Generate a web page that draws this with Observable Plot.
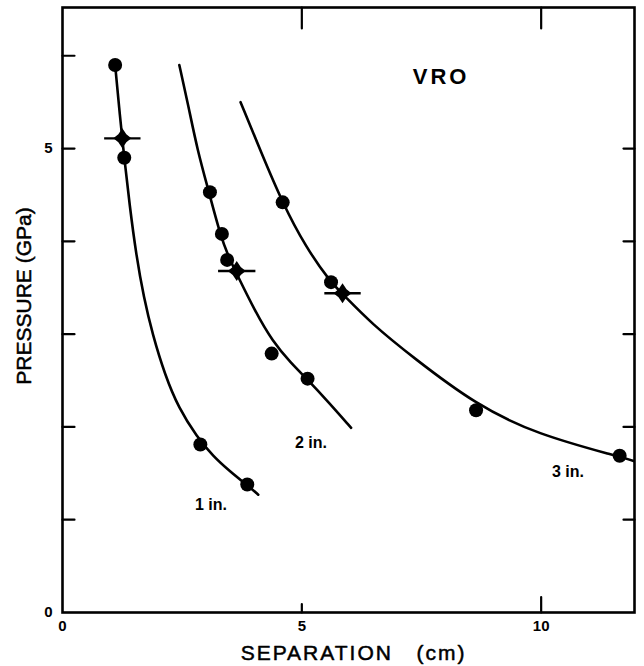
<!DOCTYPE html>
<html>
<head>
<meta charset="utf-8">
<script src="https://cdn.jsdelivr.net/npm/d3@7"></script>
<script src="https://cdn.jsdelivr.net/npm/@observablehq/plot@0.6"></script>
<style>
  html, body { margin: 0; padding: 0; background: #fff; }
  #chart svg { display: block; }
</style>
</head>
<body>
<div id="chart"></div>
<script>
// Gauge series (charge size)
const series = ["1 in.", "2 in.", "3 in."];

// Measured points: separation (cm) and peak pressure (GPa)
const dotSep   = [[1.10, 1.29, 2.88, 3.86], [3.08, 3.33, 3.44, 4.37, 5.12], [4.60, 5.61, 8.64, 11.64]];
const dotPress = [[5.90, 4.90, 1.81, 1.38], [4.53, 4.08, 3.80, 2.79, 2.52], [4.42, 3.56, 2.18, 1.69]];

// Diamond points with horizontal uncertainty (cm)
const diamondSep   = [1.25, 3.64, 5.85];
const diamondPress = [5.11, 3.68, 3.44];
const diamondErr   = [0.38, 0.39, 0.38];

// Fitted curves, one vertex list per series
const curveSep = [
  [1.10, 1.20, 1.29, 1.40, 1.54, 1.70, 1.88, 2.14, 2.43, 2.80, 3.15, 3.50, 3.86, 4.09],
  [2.44, 2.63, 2.82, 3.06, 3.29, 3.47, 3.64, 4.02, 4.39, 4.77, 5.12, 5.57, 6.03],
  [3.72, 4.15, 4.59, 5.08, 5.60, 5.84, 6.46, 7.32, 8.63, 9.91, 11.63, 12.02]
];
const curvePress = [
  [5.90, 5.35, 4.90, 4.40, 3.85, 3.39, 3.00, 2.56, 2.20, 1.90, 1.68, 1.52, 1.37, 1.27],
  [5.90, 5.46, 4.98, 4.53, 4.08, 3.83, 3.65, 3.25, 2.92, 2.69, 2.51, 2.26, 1.99],
  [5.50, 4.96, 4.42, 3.94, 3.56, 3.44, 3.11, 2.75, 2.24, 1.92, 1.68, 1.62]
];

// Curve label anchors (data units)
const labelSep   = [3.10, 5.19, 10.56];
const labelPress = [1.16, 1.83, 1.52];
const panelTitle = "VRO";
const titleSep = 7.91, titlePress = 5.77;

// Axis ticks and labels
const xTicksTop = [5, 10];
const xTicksBottom = [5, 10];
const yTicksLeft = [1, 2, 3, 4, 5, 6];
const yTicksRight = [1, 2, 3, 4, 5];
const xTickLabels = [0, 5, 10];
const yTickLabels = [0, 5];
const xTitle = "SEPARATION\u00a0\u00a0\u00a0(cm)";
const yTitle = "PRESSURE (GPa)";

// Tables built from the arrays above
const curves = series.flatMap((s, i) => curveSep[i].map((x, j) => ({series: s, x, y: curvePress[i][j]})));
const dots = series.flatMap((s, i) => dotSep[i].map((x, j) => ({series: s, x, y: dotPress[i][j]})));
const diamonds = diamondSep.map((x, i) => ({x, y: diamondPress[i], e: diamondErr[i]}));
const labels = series.map((s, i) => ({text: s, x: labelSep[i], y: labelPress[i]}));

// Plain line segment used for inward tick marks
const tickShape = {draw(ctx, l) { ctx.moveTo(0, 0); ctx.lineTo(0, -l); }};

// Four-pointed marker with slightly concave sides
const star4 = {
  draw(ctx, size) {
    const r = Math.sqrt(size / Math.PI);
    const rx = r * 0.9, k = r * 0.4;
    ctx.moveTo(0, -r);
    ctx.lineTo(k, -k);
    ctx.lineTo(rx, 0);
    ctx.lineTo(k, k);
    ctx.lineTo(0, r);
    ctx.lineTo(-k, k);
    ctx.lineTo(-rx, 0);
    ctx.lineTo(-k, -k);
    ctx.closePath();
  }
};

const font = "'Liberation Sans', Arial, Helvetica, sans-serif";

const chart = Plot.plot({
  width: 644,
  height: 666,
  marginTop: 7,
  marginRight: 10,
  marginBottom: 54,
  marginLeft: 62,
  style: {fontFamily: font, background: "#fff", color: "#000"},
  x: {domain: [0, 11.95], axis: null},
  y: {domain: [0, 6.52], axis: null},
  marks: [
    // inward ticks
    Plot.vectorY(yTicksLeft, {frameAnchor: "left", rotate: 90, length: 12, anchor: "start", shape: tickShape, strokeWidth: 2.2}),
    Plot.vectorY(yTicksRight, {frameAnchor: "right", rotate: -90, length: 11, anchor: "start", shape: tickShape, strokeWidth: 2.2}),
    Plot.vectorX(xTicksTop, {frameAnchor: "top", rotate: 180, length: 21, anchor: "start", shape: tickShape, strokeWidth: 2.2}),
    Plot.vectorX(xTicksBottom, {frameAnchor: "bottom", rotate: 0, length: d => d === 10 ? 20 : 11, anchor: "start", shape: tickShape, strokeWidth: 2.2}),
    // tick labels
    Plot.text(yTickLabels, {y: d => d, frameAnchor: "left", text: d => String(d), textAnchor: "end", lineAnchor: "middle", dx: -10, fontSize: 15, fontWeight: "bold"}),
    Plot.text(xTickLabels, {x: d => d, frameAnchor: "bottom", text: d => String(d), textAnchor: "middle", lineAnchor: "middle", dy: 14, fontSize: 15, fontWeight: "bold"}),
    // axis titles
    Plot.text([yTitle], {frameAnchor: "left", text: d => d, rotate: -90, textAnchor: "middle", lineAnchor: "middle", dx: -38, dy: -14, fontSize: 21, fill: "#000", stroke: "#000", strokeWidth: 0.5}),
    Plot.text([xTitle], {frameAnchor: "bottom", text: d => d, textAnchor: "middle", lineAnchor: "middle", dy: 41, dx: 5, fontSize: 21, fill: "#000", stroke: "#000", strokeWidth: 0.5}),
    // fitted curves
    Plot.line(curves, {x: "x", y: "y", z: "series", curve: "basis", stroke: "#000", strokeWidth: 2.6, clip: true}),
    // measured points
    Plot.dot(dots, {x: "x", y: "y", r: 7, fill: "#000"}),
    // diamonds with horizontal bars
    Plot.link(diamonds, {x1: d => d.x - d.e, x2: d => d.x + d.e, y1: "y", y2: "y", stroke: "#000", strokeWidth: 2.4}),
    Plot.dot(diamonds, {x: "x", y: "y", r: 10, symbol: star4, fill: "#000"}),
    // labels
    Plot.text(labels, {x: "x", y: "y", text: "text", fontSize: 16, fontWeight: "bold"}),
    Plot.text([panelTitle], {x: () => titleSep, y: () => titlePress, text: d => d, fontSize: 22, fontWeight: "bold"}),
    Plot.frame({stroke: "#000", strokeWidth: 2.6})
  ]
});

// Wider lettering for the x-axis title and the panel title
const spacing = new Map([[xTitle, 2], [panelTitle, 3]]);
d3.select(chart).selectAll("text").each(function () {
  const s = spacing.get(this.textContent);
  if (s) this.setAttribute("letter-spacing", s);
});

document.getElementById("chart").appendChild(chart);
</script>
</body>
</html>
